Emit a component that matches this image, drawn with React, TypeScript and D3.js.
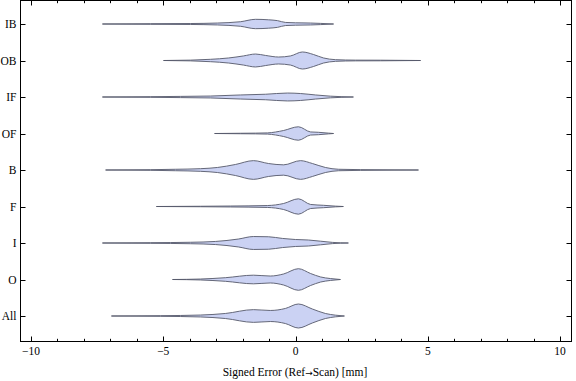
import React from "react";
import * as d3 from "d3";

const categories = ["IB", "OB", "IF", "OF", "B", "F", "I", "O", "All"];

// Each violin: error value (mm) and relative density (half-width, 1 = widest)
const violinIB: [number, number][] = [
  [-7.3, 0], [-5.48, 0.025], [-3.97, 0.04], [-2.95, 0.08], [-2.08, 0.19], [-1.51, 0.39],
  [-1.02, 0.35], [-0.68, 0.28], [-0.38, 0.13], [0, 0.1], [0.57, 0.08], [0.95, 0.05], [1.44, 0],
];
const violinOB: [number, number][] = [
  [-4.99, 0], [-3.97, 0.03], [-3.21, 0.1], [-2.53, 0.21], [-1.97, 0.38], [-1.51, 0.54],
  [-1.13, 0.42], [-0.64, 0.29], [-0.19, 0.38], [0.26, 0.71], [0.68, 0.5], [1.06, 0.21],
  [1.51, 0.07], [2.27, 0.03], [3.21, 0.025], [4.73, 0],
];
const violinIF: [number, number][] = [
  [-7.3, 0], [-5.48, 0.025], [-4.35, 0.05], [-3.21, 0.08], [-2.08, 0.17], [-1.13, 0.23],
  [-0.3, 0.33], [0.19, 0.29], [0.76, 0.17], [1.32, 0.07], [2.19, 0],
];
const violinOF: [number, number][] = [
  [-3.06, 0], [-2.08, 0.02], [-1.51, 0.03], [-1.06, 0.05], [-0.45, 0.25], [0.11, 0.56],
  [0.57, 0.13], [0.87, 0.1], [1.25, 0.03], [1.44, 0],
];
const violinB: [number, number][] = [
  [-7.18, 0], [-5.48, 0.025], [-4.54, 0.06], [-3.59, 0.11], [-2.95, 0.21], [-2.27, 0.46],
  [-1.59, 0.78], [-1.02, 0.54], [-0.45, 0.43], [0.19, 0.78], [0.64, 0.54], [1.13, 0.21],
  [1.63, 0.06], [2.46, 0.03], [4.65, 0],
];
const violinF: [number, number][] = [
  [-5.26, 0], [-3.59, 0.02], [-2.46, 0.04], [-1.06, 0.08], [-0.45, 0.25], [0.11, 0.64],
  [0.57, 0.17], [1.06, 0.1], [1.51, 0.03], [1.81, 0],
];
const violinI: [number, number][] = [
  [-7.3, 0], [-5.48, 0.025], [-3.97, 0.06], [-3.02, 0.13], [-2.16, 0.33], [-1.59, 0.54],
  [-1.02, 0.52], [-0.49, 0.38], [0, 0.29], [0.49, 0.25], [0.95, 0.15], [1.4, 0.05], [2.0, 0],
];
const violinO: [number, number][] = [
  [-4.65, 0], [-3.59, 0.04], [-2.65, 0.15], [-1.59, 0.36], [-0.95, 0.29], [-0.45, 0.46],
  [0.11, 0.9], [0.57, 0.5], [0.95, 0.21], [1.32, 0.08], [1.7, 0],
];
const violinAll: [number, number][] = [
  [-6.96, 0], [-5.1, 0.025], [-3.59, 0.08], [-2.65, 0.21], [-1.59, 0.53], [-0.95, 0.46],
  [-0.38, 0.63], [0.11, 1.0], [0.64, 0.58], [1.13, 0.21], [1.51, 0.07], [1.85, 0],
];

const violins = [violinIB, violinOB, violinIF, violinOF, violinB, violinF, violinI, violinO, violinAll];

const xMajorTicks = [-10, -5, 0, 5, 10];
const xMinorTicks = d3.range(-10, 11, 1);
const xLabelParts = ["Signed Error (Ref", "\u2192", "Scan) [mm]"];

const W = 576;
const H = 381;
const frame = { left: 20.5, right: 571.5, top: 0.5, bottom: 341.5 };

export default function App() {
  const x = d3.scaleLinear().domain([-10, 10]).range([31, 560]);
  const y = d3.scalePoint<string>().domain(categories).range([24, 316]);
  const w = d3.scaleLinear().domain([0, 1]).range([0, 12]);
  const font = "'Liberation Serif', 'Times New Roman', serif";
  const fmt = (v: number) => (v < 0 ? "\u2212" + Math.abs(v) : String(v));

  return (
    <svg
      width={W}
      height={H}
      style={{ position: "fixed", left: 0, top: 0, background: "#fff" }}
      fontFamily={font}
    >
      {violins.map((pts, i) => {
        const cy = y(categories[i])!;
        const area = d3
          .area<[number, number]>()
          .x((d) => x(d[0]))
          .y0((d) => cy - w(d[1]))
          .y1((d) => cy + w(d[1]))
          .curve(d3.curveMonotoneX);
        return (
          <path
            key={categories[i]}
            d={area(pts) || ""}
            fill="#cbd2f3"
            stroke="#55586a"
            strokeWidth={0.9}
            strokeLinejoin="round"
          />
        );
      })}
      <rect
        x={frame.left}
        y={frame.top}
        width={frame.right - frame.left}
        height={frame.bottom - frame.top}
        fill="none"
        stroke="#000"
        strokeWidth={1}
      />
      {xMinorTicks.map((t) => {
        const major = xMajorTicks.includes(t);
        const len = major ? 5 : 2.7;
        const px = Math.round(x(t)) + 0.5;
        return (
          <g key={"xt" + t}>
            <line x1={px} x2={px} y1={frame.bottom} y2={frame.bottom - len} stroke="#000" />
            <line x1={px} x2={px} y1={frame.top} y2={frame.top + len} stroke="#000" />
          </g>
        );
      })}
      {xMajorTicks.map((t) => (
        <text
          key={"xl" + t}
          x={x(t)}
          y={354.5}
          fontSize={11.5}
          textAnchor="middle"
          fill="#000"
        >
          {fmt(t)}
        </text>
      ))}
      {categories.map((c) => {
        const py = Math.round(y(c)!) + 0.5;
        return (
          <g key={"yt" + c}>
            <line x1={frame.left} x2={frame.left + 5} y1={py} y2={py} stroke="#000" />
            <line x1={frame.right} x2={frame.right - 5} y1={py} y2={py} stroke="#000" />
            <text x={16.5} y={py + 3.5} fontSize={11.5} textAnchor="end" fill="#000">
              {c}
            </text>
          </g>
        );
      })}
      <text x={295} y={376} fontSize={11.5} textAnchor="middle" fill="#000">
        {xLabelParts[0]}
        <tspan fontFamily="'DejaVu Sans', sans-serif" fontSize={9}>{xLabelParts[1]}</tspan>
        {xLabelParts[2]}
      </text>
    </svg>
  );
}
